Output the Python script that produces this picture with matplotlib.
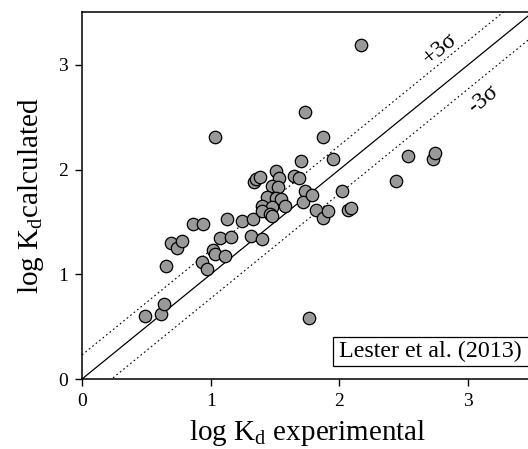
import numpy as np
import matplotlib
matplotlib.use("Agg")
import matplotlib.pyplot as plt
from matplotlib.patches import Rectangle

plt.rcParams["font.family"] = ["Liberation Serif", "DejaVu Serif"]
plt.rcParams["mathtext.fontset"] = "custom"
plt.rcParams["mathtext.rm"] = "Liberation Serif"
plt.rcParams["mathtext.it"] = "Liberation Serif:italic"

# log Kd experimental vs calculated
kd_exp = [0.49, 0.61, 0.64, 0.65, 0.69, 0.74, 0.78, 0.86, 0.94, 0.93, 0.97, 1.02,
          1.03, 1.11, 1.07, 1.16, 1.31, 1.40, 1.13, 1.24, 1.33, 1.03, 1.34, 1.35,
          1.38, 1.51, 1.53, 1.48, 1.52, 1.65, 1.69, 1.70, 1.73, 1.87, 1.95, 2.17,
          1.73, 1.72, 1.79, 1.44, 1.51, 1.55, 1.58, 1.40, 1.48, 1.40, 1.46, 1.48,
          1.82, 1.87, 1.91, 2.02, 2.07, 2.09, 2.44, 2.53, 2.73, 2.74, 1.76]
kd_calc = [0.60, 0.62, 0.72, 1.08, 1.30, 1.25, 1.32, 1.48, 1.48, 1.12, 1.05, 1.23,
           1.19, 1.17, 1.35, 1.36, 1.37, 1.34, 1.53, 1.51, 1.53, 2.31, 1.88, 1.91,
           1.93, 1.99, 1.92, 1.84, 1.83, 1.94, 1.92, 2.08, 2.55, 2.31, 2.10, 3.19,
           1.80, 1.69, 1.76, 1.74, 1.73, 1.72, 1.65, 1.65, 1.64, 1.60, 1.58, 1.56,
           1.61, 1.54, 1.60, 1.80, 1.61, 1.63, 1.89, 2.13, 2.10, 2.16, 0.58]
sigma3 = 0.23
lim = [0, 3.5]
ticks = [0, 1, 2, 3]

fig = plt.figure(figsize=(5.28, 4.49), dpi=100)
ax = fig.add_axes([0.1553, 0.1559, 0.8531, 0.8163])

xx = np.array(lim)
ax.plot(xx, xx, color="black", lw=0.9, zorder=1)
ax.plot(xx, xx + sigma3, color="black", lw=0.8, ls=(0, (1.5, 2.5)), zorder=1)
ax.plot(xx, xx - sigma3, color="black", lw=0.8, ls=(0, (1.5, 2.5)), zorder=1)

ax.scatter(kd_exp, kd_calc, s=80, facecolor="#999999", edgecolor="black",
           linewidth=0.9, zorder=3)

ang = np.degrees(np.arctan(104.7 / 128.7))
ax.text(2.78, 3.15, "+3σ", rotation=ang, ha="center", va="center", fontsize=17)
ax.text(3.12, 2.67, "-3σ", rotation=ang, ha="center", va="center", fontsize=17)

# label box runs off the right edge like in the original
ax.add_patch(Rectangle((1.95, 0.125), 1.6, 0.275, facecolor="white",
                       edgecolor="black", lw=0.9, zorder=4))
ax.text(2.0, 0.26, "Lester et al. (2013)", ha="left", va="center", fontsize=17.3,
        zorder=5)

ax.set_xlim(lim)
ax.set_ylim(lim)
ax.set_xticks(ticks)
ax.set_yticks(ticks)
ax.tick_params(direction="out", length=5, width=1, labelsize=14, pad=5)
for sp in ax.spines.values():
    sp.set_linewidth(1.1)

ax.set_xlabel(r"log K$_\mathrm{d}$ experimental", fontsize=21, labelpad=6)
ax.set_ylabel(r"log K$_\mathrm{d}$calculated", fontsize=21, labelpad=9)

fig.savefig("out.png", dpi=100)
